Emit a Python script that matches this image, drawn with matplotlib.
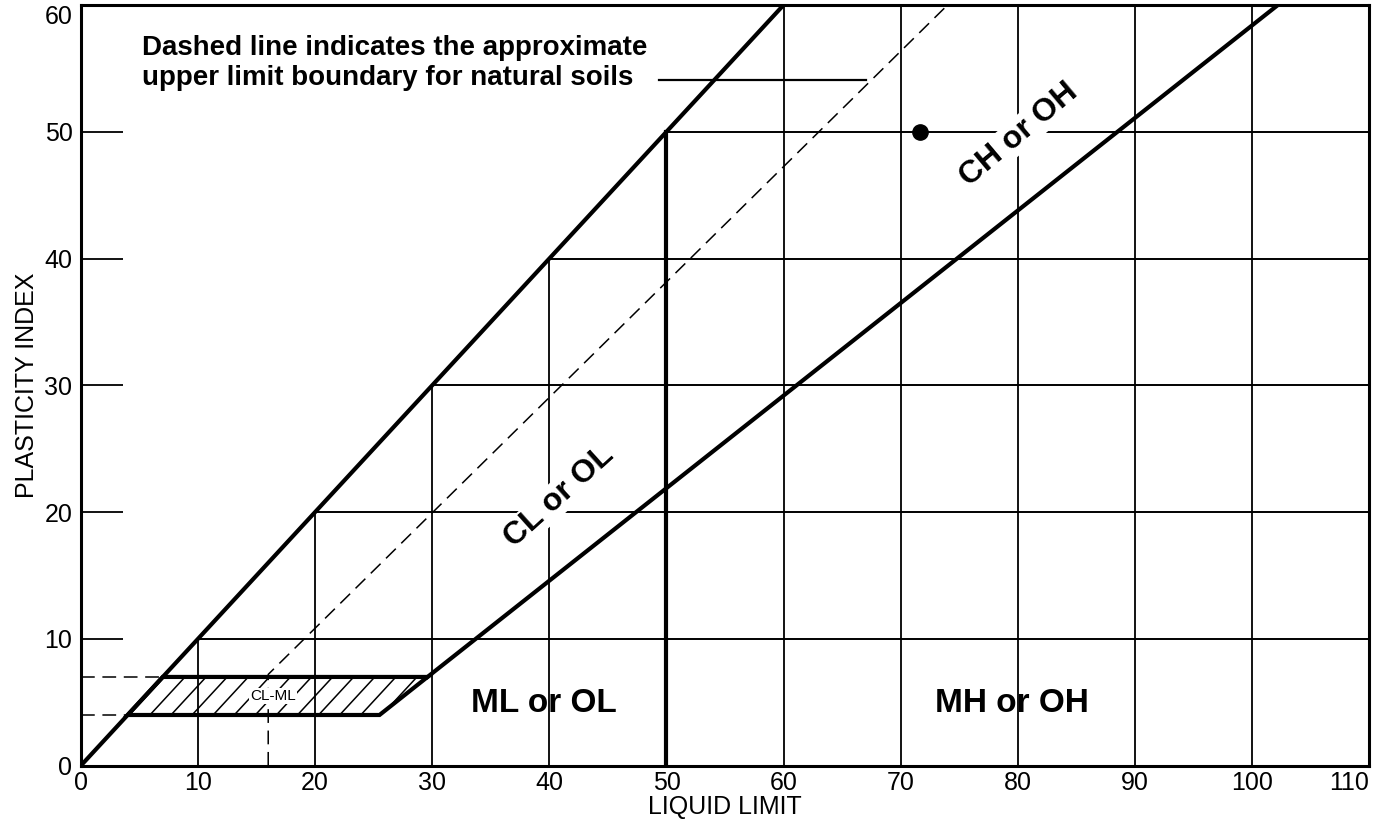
import matplotlib
matplotlib.use("Agg")
import matplotlib.pyplot as plt
from matplotlib.patches import Polygon
import numpy as np

plt.rcParams['font.family'] = ['Liberation Sans', 'DejaVu Sans']

# Escalas dos eixos
ll_ticks = [0, 10, 20, 30, 40, 50, 60, 70, 80, 90, 100, 110]
pi_ticks = [0, 10, 20, 30, 40, 50, 60]

# Linhas internas da grade (verticais e horizontais)
grid_ll = [10, 20, 30, 40, 50, 60, 70, 80, 90, 100]
grid_pi = [10, 20, 30, 40, 50]

# Linha superior (PI = LL) e linha A
upper_ll = [0, 60]
upper_pi = [0, 60]
a_ll = [29.6, 102.2]
a_pi = [7, 60]

# Linha U tracejada (limite superior para solos naturais)
u_ll = [16, 16, 74]
u_pi = [0, 7.2, 60]

# Zona CL-ML
clml_ll = [4, 25.5, 29.6, 7]
clml_pi = [4, 4, 7, 7]

# Ponto da amostra
sample_ll = [71.6]
sample_pi = [50]

# Linha de chamada da nota
leader_ll = [49.4, 67]
leader_pi = [54.1, 54.1]

fig = plt.figure(figsize=(13.93, 8.26), dpi=100)
ax = fig.add_axes([0.058, 0.073, 0.925, 0.921])
ax.set_xlim(0, 110)
ax.set_ylim(0, 60)

# grade parcial
for x in grid_ll:
    top = min(x, 60)
    lw = 3 if x == 50 else 1.3
    ax.plot([x, x], [0, top], color='black', linewidth=lw, zorder=1)
for y in grid_pi:
    ax.plot([y, 110], [y, y], color='black', linewidth=1.4, zorder=1)

# linhas principais
ax.plot(upper_ll, upper_pi, color='black', linewidth=3, zorder=3)
ax.plot(a_ll, a_pi, color='black', linewidth=3, zorder=3)
ax.plot(u_ll, u_pi, color='black', linewidth=1.1, dashes=(9, 5), zorder=2)
ax.plot([0, clml_ll[3]], [clml_pi[3]] * 2, color='black', linewidth=1.1, dashes=(9, 5))
ax.plot([0, clml_ll[0]], [clml_pi[0]] * 2, color='black', linewidth=1.1, dashes=(9, 5))

# zona CL-ML hachurada
poly = Polygon(list(zip(clml_ll, clml_pi)), closed=True, facecolor='none',
               edgecolor='black', linewidth=3, zorder=3)
ax.add_patch(poly)
for c in np.arange(4.1, 30, 1.8):
    ln, = ax.plot([c, c + 3], [4, 7], color='black', linewidth=1.1, zorder=2)
    ln.set_clip_path(poly)

ax.plot(sample_ll, sample_pi, 'o', color='black', markersize=11, zorder=4)
ax.plot(leader_ll, leader_pi, color='black', linewidth=1.6)

# textos
ax.text(5.2, 57.6, 'Dashed line indicates the approximate\nupper limit boundary for natural soils',
        fontsize=20, fontweight='bold', ha='left', va='top', linespacing=1.2)
box = dict(facecolor='white', edgecolor='none', pad=1)
ax.text(39.5, 4.9, 'ML or OL', fontsize=24, fontweight='bold', ha='center', va='center')
ax.text(79.5, 4.9, 'MH or OH', fontsize=24, fontweight='bold', ha='center', va='center')
ax.text(40.8, 21.2, 'CL or OL', fontsize=23, fontweight='bold', ha='center', va='center',
        rotation=42, bbox=box, zorder=2.5)
ax.text(80.1, 49.8, 'CH or OH', fontsize=23, fontweight='bold', ha='center', va='center',
        rotation=40, bbox=box, zorder=2.5)
ax.text(16.4, 5.5, 'CL-ML', fontsize=11, ha='center', va='center',
        bbox=dict(facecolor='white', edgecolor='none', pad=0.5), zorder=2.6)

ax.set_xticks(ll_ticks)
ax.set_yticks(pi_ticks)
ax.tick_params(axis='x', length=0, pad=4, labelsize=18)
ax.tick_params(axis='y', direction='in', length=30, width=1.3, pad=6, labelsize=18)
ax.get_yticklabels()[-1].set_verticalalignment('top')
ax.get_xticklabels()[-1].set_horizontalalignment('right')
for s in ax.spines.values():
    s.set_linewidth(2.2)
ax.set_xlabel('LIQUID LIMIT', fontsize=18, labelpad=0)
ax.set_ylabel('PLASTICITY INDEX', fontsize=18, labelpad=4)

plt.savefig('out.png', dpi=100)
